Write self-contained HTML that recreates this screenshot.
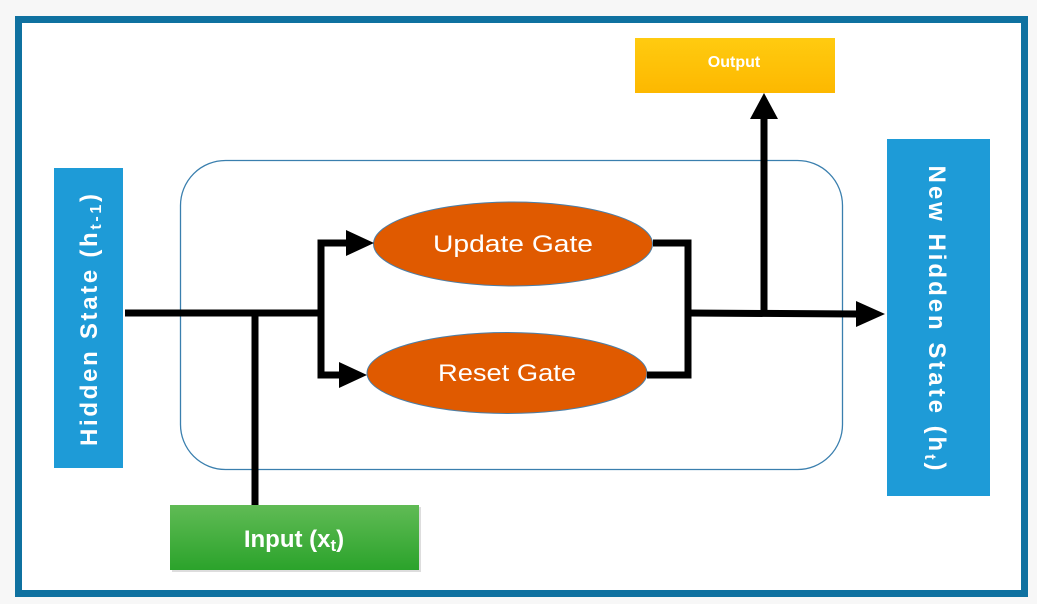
<!DOCTYPE html>
<html><head><style>
body{margin:0;background:#f5f5f5;}
svg{display:block}
text{font-family:"Liberation Sans","DejaVu Sans",sans-serif;fill:#fff}
</style></head><body>
<svg width="1037" height="604" viewBox="0 0 1037 604">
<rect x="0" y="0" width="1037" height="604" fill="#f7f7f7"/>
<rect x="18.5" y="19.5" width="1006" height="574" fill="#fff" stroke="#0f71a0" stroke-width="7"/>
<rect x="180.5" y="160.5" width="662" height="309" rx="45" fill="none" stroke="#3a7fae" stroke-width="1.3"/>
<rect x="54" y="168" width="69" height="300" fill="#1e9bd7"/>
<text transform="translate(97,320) rotate(-90)" text-anchor="middle" font-size="24" font-weight="bold" textLength="252" lengthAdjust="spacing">Hidden State (h<tspan font-size="16" dy="4">t-1</tspan><tspan dy="-4">)</tspan></text>
<rect x="887" y="139" width="103" height="357" fill="#1e9bd7"/>
<text transform="translate(929,318) rotate(90)" text-anchor="middle" font-size="24" font-weight="bold" textLength="305" lengthAdjust="spacing">New Hidden State (h<tspan font-size="16" dy="4">t</tspan><tspan dy="-4">)</tspan></text>
<defs>
<linearGradient id="g" x1="0" y1="0" x2="0" y2="1"><stop offset="0" stop-color="#60bb55"/><stop offset="1" stop-color="#2ba32b"/></linearGradient>
<linearGradient id="o" x1="0" y1="0" x2="0" y2="1"><stop offset="0" stop-color="#ffcb10"/><stop offset="1" stop-color="#fdb800"/></linearGradient>
</defs>
<rect x="172" y="507" width="249" height="65" fill="#bbb" opacity="0.5"/>
<rect x="170" y="505" width="249" height="65" fill="url(#g)"/>
<text x="294" y="547" text-anchor="middle" font-size="24" font-weight="bold">Input (x<tspan font-size="17" dy="4">t</tspan><tspan dy="-4">)</tspan></text>
<rect x="635" y="38" width="200" height="55" fill="url(#o)"/>
<text x="734" y="67" text-anchor="middle" font-size="16" font-weight="bold">Output</text>
<ellipse cx="513" cy="244" rx="139.5" ry="42" fill="#e05a00" stroke="#4a7fa8" stroke-width="1"/>
<text x="513" y="252" text-anchor="middle" font-size="24" textLength="160" lengthAdjust="spacingAndGlyphs">Update Gate</text>
<ellipse cx="507" cy="373" rx="140" ry="40.5" fill="#e05a00" stroke="#4a7fa8" stroke-width="1"/>
<text x="507" y="381" text-anchor="middle" font-size="24" textLength="138" lengthAdjust="spacingAndGlyphs">Reset Gate</text>
<g stroke="#000" stroke-width="7" fill="none">
<line x1="125" y1="313" x2="318" y2="313"/>
<line x1="255" y1="313" x2="255" y2="505"/>
<polyline points="348,243 321,243 321,375 341,375"/>
<polyline points="653,243 688,243 688,375 647,375"/>
<line x1="688" y1="313" x2="858" y2="314"/>
<line x1="764" y1="313" x2="764" y2="118"/>
</g>
<g fill="#000">
<polygon points="346,230 374,243 346,256"/>
<polygon points="339,362 367,375 339,388"/>
<polygon points="856,301 885,314 856,327"/>
<polygon points="750,119 764,93 778,119"/>
</g>
</svg>
</body></html>
